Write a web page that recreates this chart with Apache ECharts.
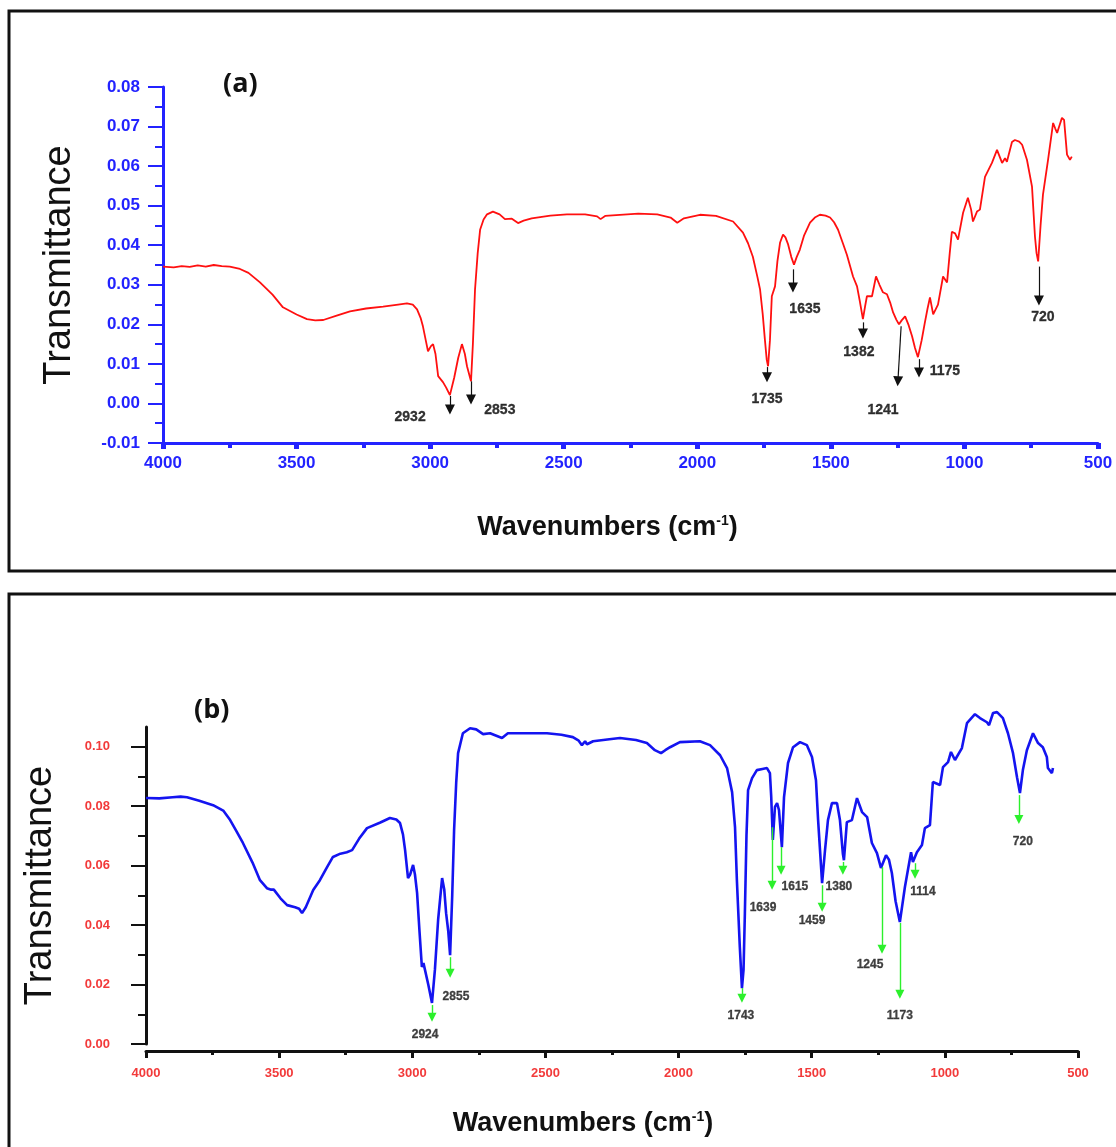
<!DOCTYPE html>
<html>
<head>
<meta charset="utf-8">
<title>FTIR spectra (a) and (b)</title>
<script src="https://cdn.jsdelivr.net/npm/echarts@6/dist/echarts.min.js"></script>
<style>
    html, body { margin: 0; padding: 0; background: #fff; }
    #chart { width: 1116px; height: 1147px; }
</style>
</head>
<body>
<div id="chart"></div>
<script>
// Spectrum (a) - wavenumber (cm-1) and transmittance
const waveA = [4000, 3960, 3930, 3900, 3870, 3840, 3810, 3780, 3750, 3712, 3680, 3637, 3590, 3551, 3500, 3461, 3430, 3400, 3350, 3300,
    3240, 3176, 3120, 3087, 3065, 3049, 3035, 3027, 3015, 3008, 2997, 2989, 2980, 2970, 2952, 2940, 2926, 2910, 2895, 2881,
    2870, 2862, 2847, 2840, 2832, 2822, 2813, 2800, 2787, 2765, 2740, 2720, 2694, 2671, 2650, 2620, 2550, 2488, 2420, 2375,
    2362, 2345, 2221, 2150, 2100, 2075, 2050, 1990, 1930, 1866, 1829, 1810, 1792, 1775, 1765, 1755, 1747, 1740, 1735, 1728,
    1721, 1709, 1700, 1690, 1679, 1670, 1660, 1648, 1638, 1628, 1616, 1600, 1578, 1560, 1541, 1520, 1503, 1488, 1473, 1455,
    1440, 1417, 1402, 1392, 1380, 1372, 1365, 1346, 1331, 1318, 1305, 1290, 1278, 1267, 1255, 1245, 1235, 1222, 1210, 1196,
    1185, 1174, 1160, 1148, 1138, 1129, 1117, 1099, 1080, 1065, 1055, 1047, 1035, 1024, 1005, 987, 975, 968, 953, 942,
    923, 897, 878, 859, 848, 841, 822, 811, 795, 784, 766, 747, 736, 730, 724, 715, 706, 687, 668, 660,
    653, 646, 635, 627, 616, 605, 598];
const transA = [0.0346, 0.0344, 0.0347, 0.0345, 0.0349, 0.0346, 0.0350, 0.0347, 0.0346, 0.0340, 0.0330, 0.0306, 0.0275, 0.0243, 0.0225, 0.0213, 0.0210, 0.0211, 0.0222, 0.0233,
    0.0240, 0.0245, 0.0250, 0.0253, 0.0250, 0.0238, 0.0215, 0.0195, 0.0155, 0.0132, 0.0145, 0.0150, 0.0125, 0.0069, 0.0054, 0.0040, 0.0021, 0.0065, 0.0115, 0.0150,
    0.0125, 0.0094, 0.0056, 0.0150, 0.0288, 0.0380, 0.0439, 0.0465, 0.0478, 0.0485, 0.0478, 0.0466, 0.0467, 0.0456, 0.0462, 0.0468, 0.0475, 0.0478, 0.0478, 0.0473,
    0.0466, 0.0474, 0.0480, 0.0478, 0.0470, 0.0457, 0.0468, 0.0477, 0.0474, 0.0460, 0.0432, 0.0405, 0.0371, 0.0320, 0.0288, 0.0225, 0.0162, 0.0110, 0.0094, 0.0160,
    0.0271, 0.0296, 0.0360, 0.0407, 0.0427, 0.0420, 0.0402, 0.0370, 0.0351, 0.0370, 0.0389, 0.0425, 0.0457, 0.0470, 0.0477, 0.0475, 0.0470, 0.0458, 0.0439, 0.0405,
    0.0376, 0.0321, 0.0296, 0.0260, 0.0213, 0.0245, 0.0271, 0.0271, 0.0321, 0.0300, 0.0281, 0.0276, 0.0255, 0.0230, 0.0212, 0.0200, 0.0210, 0.0220, 0.0200, 0.0170,
    0.0140, 0.0117, 0.0160, 0.0205, 0.0240, 0.0268, 0.0225, 0.0250, 0.0321, 0.0306, 0.0380, 0.0434, 0.0430, 0.0414, 0.0482, 0.0520, 0.0490, 0.0460, 0.0485, 0.0490,
    0.0573, 0.0608, 0.0641, 0.0608, 0.0620, 0.0611, 0.0661, 0.0666, 0.0662, 0.0654, 0.0616, 0.0548, 0.0422, 0.0380, 0.0359, 0.0450, 0.0528, 0.0616, 0.0709, 0.0695,
    0.0684, 0.0699, 0.0722, 0.0717, 0.0629, 0.0616, 0.0624];

// Spectrum (b)
const waveB = [4000, 3950, 3900, 3870, 3846, 3800, 3748, 3710, 3684, 3660, 3636, 3600, 3572, 3546, 3530, 3520, 3495, 3470, 3440, 3425,
    3414, 3400, 3372, 3347, 3320, 3298, 3270, 3246, 3226, 3200, 3170, 3120, 3084, 3060, 3046, 3035, 3027, 3016, 3008, 2997,
    2990, 2982, 2973, 2964, 2958, 2952, 2940, 2926, 2915, 2903, 2888, 2880, 2873, 2865, 2858, 2850, 2843, 2835, 2828, 2810,
    2783, 2760, 2734, 2708, 2663, 2641, 2560, 2494, 2440, 2397, 2375, 2363, 2351, 2344, 2321, 2260, 2220, 2160, 2119, 2089,
    2066, 2050, 2032, 1995, 1920, 1882, 1844, 1818, 1799, 1788, 1781, 1770, 1762, 1756, 1751, 1745, 1739, 1724, 1706, 1685,
    1668, 1657, 1652, 1646, 1638, 1630, 1623, 1612, 1604, 1589, 1570, 1544, 1518, 1499, 1484, 1476, 1468, 1461, 1450, 1439,
    1424, 1405, 1394, 1383, 1379, 1368, 1349, 1330, 1311, 1292, 1274, 1255, 1240, 1221, 1210, 1199, 1185, 1169, 1150, 1127,
    1120, 1105, 1086, 1075, 1056, 1045, 1018, 1007, 988, 977, 962, 936, 917, 887, 868, 842, 834, 819, 804, 782,
    763, 744, 729, 718, 707, 692, 669, 662, 650, 632, 617, 613, 598, 594];
const transB = [0.0827, 0.0826, 0.0830, 0.0832, 0.0830, 0.0818, 0.0803, 0.0785, 0.0753, 0.0715, 0.0676, 0.0610, 0.0551, 0.0524, 0.0519, 0.0519, 0.0490, 0.0467, 0.0460, 0.0455,
    0.0440, 0.0460, 0.0518, 0.0551, 0.0595, 0.0629, 0.0640, 0.0645, 0.0652, 0.0690, 0.0726, 0.0745, 0.0760, 0.0755, 0.0743, 0.0705, 0.0652, 0.0558, 0.0570, 0.0602,
    0.0570, 0.0508, 0.0380, 0.0259, 0.0272, 0.0272, 0.0200, 0.0138, 0.0250, 0.0417, 0.0558, 0.0520, 0.0440, 0.0380, 0.0299, 0.0500, 0.0719, 0.0880, 0.0978, 0.1045,
    0.1062, 0.1058, 0.1042, 0.1045, 0.1029, 0.1045, 0.1045, 0.1045, 0.1040, 0.1032, 0.1020, 0.1005, 0.1018, 0.1008, 0.1018, 0.1025, 0.1029, 0.1022, 0.1012, 0.0988,
    0.0978, 0.0988, 0.0998, 0.1015, 0.1018, 0.1005, 0.0971, 0.0928, 0.0847, 0.0729, 0.0551, 0.0326, 0.0188, 0.0250, 0.0440, 0.0700, 0.0854, 0.0894, 0.0921, 0.0925,
    0.0928, 0.0911, 0.0830, 0.0686, 0.0797, 0.0810, 0.0787, 0.0662, 0.0830, 0.0945, 0.0998, 0.1015, 0.1005, 0.0965, 0.0887, 0.0753, 0.0640, 0.0541, 0.0652, 0.0753,
    0.0810, 0.0810, 0.0753, 0.0640, 0.0618, 0.0746, 0.0753, 0.0827, 0.0780, 0.0763, 0.0676, 0.0642, 0.0592, 0.0635, 0.0620, 0.0575, 0.0480, 0.0410, 0.0528, 0.0645,
    0.0612, 0.0645, 0.0669, 0.0726, 0.0736, 0.0881, 0.0871, 0.0931, 0.0948, 0.0982, 0.0955, 0.0995, 0.1079, 0.1109, 0.1096, 0.1082, 0.1072, 0.1113, 0.1116, 0.1096,
    0.1045, 0.0978, 0.0897, 0.0844, 0.0921, 0.0988, 0.1045, 0.1049, 0.1012, 0.0998, 0.0965, 0.0928, 0.0911, 0.0928];

// axis ticks
const yMajorB = [0, 0.02, 0.04, 0.06, 0.08, 0.10];
const yMinorB = [0.01, 0.03, 0.05, 0.07, 0.09];

// peak callouts: label, arrow start [wn, T], arrow end [wn, T], label position [wn, T]
const peakLabelsA = ['2932', '2853', '1735', '1635', '1382', '1241', '1175', '720'];
const arrowFromA = [[2926, 0.0019], [2847, 0.0056], [1739, 0.0092], [1642, 0.0339], [1380, 0.0205], [1237, 0.0195], [1170, 0.0112], [721, 0.0346]];
const arrowToA = [[2926, -0.0015], [2847, 0.0010], [1739, 0.0066], [1642, 0.0293], [1380, 0.0177], [1249, 0.0056], [1170, 0.0078], [721, 0.0260]];
const labelPosA = [[3075, -0.0034], [2739, -0.0017], [1739, 0.0011], [1597, 0.0238], [1395, 0.0129], [1305, -0.0017], [1073, 0.0082], [706, 0.0218]];

const peakLabelsB = ['2924', '2855', '1743', '1639', '1615', '1459', '1380', '1245', '1173', '1114', '720'];
const arrowFromB = [[2926, 0.0131], [2858, 0.0292], [1762, 0.0188], [1649, 0.0729], [1615, 0.0662], [1461, 0.0534], [1383, 0.0612], [1236, 0.0595], [1169, 0.0407], [1112, 0.0608], [722, 0.0837]];
const arrowToB = [[2926, 0.0090], [2858, 0.0238], [1762, 0.0154], [1649, 0.0534], [1615, 0.0584], [1461, 0.0460], [1383, 0.0584], [1236, 0.0319], [1169, 0.0167], [1112, 0.0571], [722, 0.0755]];
const labelPosB = [[2952, 0.0030], [2836, 0.0158], [1766, 0.0094], [1683, 0.0457], [1563, 0.0528], [1499, 0.0413], [1398, 0.0528], [1281, 0.0266], [1169, 0.0094], [1082, 0.0511], [707, 0.0679]];

const BLUE = '#2323ff';
const RED_TXT = '#f23a3a';
const GREEN = '#2cf02c';
const ARIAL = "'Liberation Sans', Arial, sans-serif";

function pairs(xs, ys) {
    return xs.map((x, i) => [x, ys[i]]);
}

function arrowLines(from, to) {
    return from.map((p, i) => [{ coord: p }, { coord: to[i] }]);
}

function labelPoints(pos, labels) {
    return pos.map((p, i) => [p[0], p[1], labels[i]]);
}

const chart = echarts.init(document.getElementById('chart'), null, { renderer: 'canvas' });

const option = {
    animation: false,
    backgroundColor: '#fff',
    title: [
        { text: '(a)', left: 218, top: 66, textStyle: { fontFamily: "'Open Sans', sans-serif", fontWeight: 'bold', fontSize: 27, color: '#111' } },
        { text: '(b)', left: 189, top: 692, textStyle: { fontFamily: "'Open Sans', sans-serif", fontWeight: 'bold', fontSize: 27, color: '#111' } }
    ],
    graphic: [
        { type: 'rect', shape: { x: 9, y: 11, width: 1125, height: 560 }, style: { fill: 'none', stroke: '#111', lineWidth: 3 }, silent: true },
        { type: 'rect', shape: { x: 9, y: 594, width: 1125, height: 580 }, style: { fill: 'none', stroke: '#111', lineWidth: 3 }, silent: true }
    ],
    grid: [
        { left: 163, top: 87, width: 935, height: 356 },
        { left: 146, top: 727, width: 932, height: 317 }
    ],
    xAxis: [
        {
            gridIndex: 0, type: 'value', min: 500, max: 4000, interval: 500, inverse: true,
            name: 'Wavenumbers (cm{sup|-1})', nameLocation: 'middle', nameGap: 71,
            nameTextStyle: {
                fontFamily: ARIAL, fontWeight: 'bold', fontSize: 27, color: '#111', padding: [0, 46, 0, 0],
                rich: { sup: { fontFamily: ARIAL, fontWeight: 'bold', fontSize: 14, verticalAlign: 'top', color: '#111' } }
            },
            axisLine: { onZero: false, lineStyle: { color: BLUE, width: 3 } },
            axisTick: { length: 6, lineStyle: { color: BLUE, width: 5 } },
            minorTick: { show: true, splitNumber: 2, length: 5, lineStyle: { color: BLUE, width: 4 } },
            axisLabel: { margin: 12, fontFamily: ARIAL, fontWeight: 'bold', fontSize: 17, color: BLUE, formatter: v => String(v) },
            splitLine: { show: false }
        },
        {
            gridIndex: 1, type: 'value', min: 500, max: 4000, interval: 500, inverse: true, offset: 7,
            name: 'Wavenumbers (cm{sup|-1})', nameLocation: 'middle', nameGap: 59,
            nameTextStyle: {
                fontFamily: ARIAL, fontWeight: 'bold', fontSize: 27, color: '#111', padding: [0, 58, 0, 0],
                rich: { sup: { fontFamily: ARIAL, fontWeight: 'bold', fontSize: 14, verticalAlign: 'top', color: '#111' } }
            },
            axisLine: { onZero: false, lineStyle: { color: '#111', width: 3 } },
            axisTick: { length: 7, lineStyle: { color: '#111', width: 3 } },
            minorTick: { show: true, splitNumber: 2, length: 4, lineStyle: { color: '#111', width: 3 } },
            axisLabel: { margin: 16, fontFamily: ARIAL, fontWeight: 'bold', fontSize: 13, color: RED_TXT, formatter: v => String(v) },
            splitLine: { show: false }
        }
    ],
    yAxis: [
        {
            gridIndex: 0, type: 'value', min: -0.01, max: 0.08, interval: 0.01,
            name: 'Transmittance', nameLocation: 'middle', nameGap: 84,
            nameTextStyle: { fontFamily: ARIAL, fontSize: 38, color: '#111' },
            axisLine: { onZero: false, lineStyle: { color: BLUE, width: 3 } },
            axisTick: { length: 15, lineStyle: { color: BLUE, width: 2 } },
            minorTick: { show: true, splitNumber: 2, length: 8, lineStyle: { color: BLUE, width: 2 } },
            axisLabel: { margin: 23, fontFamily: ARIAL, fontWeight: 'bold', fontSize: 17, color: BLUE, formatter: v => v.toFixed(2) },
            splitLine: { show: false }
        },
        {
            gridIndex: 1, type: 'value', min: 0, max: 0.1066, position: 'left',
            name: 'Transmittance', nameLocation: 'middle', nameGap: 86,
            nameTextStyle: { fontFamily: ARIAL, fontSize: 38, color: '#111' },
            axisLine: { onZero: false, lineStyle: { color: '#111', width: 3 } },
            axisTick: { length: 15, customValues: yMajorB, lineStyle: { color: '#111', width: 2 } },
            axisLabel: { margin: 36, customValues: yMajorB, fontFamily: ARIAL, fontWeight: 'bold', fontSize: 13, color: RED_TXT, formatter: v => v.toFixed(2) },
            splitLine: { show: false }
        },
        {
            gridIndex: 1, type: 'value', min: 0, max: 0.1066, position: 'left', offset: 0,
            axisLine: { show: false, onZero: false },
            axisTick: { length: 8, customValues: yMinorB, lineStyle: { color: '#111', width: 2 } },
            axisLabel: { show: false },
            splitLine: { show: false }
        }
    ],
    series: [
        {
            name: 'a', type: 'line', xAxisIndex: 0, yAxisIndex: 0,
            data: pairs(waveA, transA), showSymbol: false, symbol: 'none', clip: false,
            lineStyle: { color: '#ff1010', width: 1.8 },
            markLine: {
                silent: true, symbol: ['none', 'triangle'], symbolSize: 10,
                label: { show: false },
                lineStyle: { color: '#111', width: 1.2, type: 'solid' },
                data: arrowLines(arrowFromA, arrowToA)
            }
        },
        {
            name: 'a labels', type: 'scatter', xAxisIndex: 0, yAxisIndex: 0, symbolSize: 0, silent: true,
            data: labelPoints(labelPosA, peakLabelsA),
            label: { show: true, position: 'inside', formatter: p => p.value[2], fontFamily: ARIAL, fontWeight: 'bold', fontSize: 14, color: '#000', textBorderColor: '#000', textBorderWidth: 0.3 }
        },
        {
            name: 'b', type: 'line', xAxisIndex: 1, yAxisIndex: 1,
            data: pairs(waveB, transB), showSymbol: false, symbol: 'none', clip: false,
            lineStyle: { color: '#1414f0', width: 2.6 },
            markLine: {
                silent: true, symbol: ['none', 'triangle'], symbolSize: 9,
                label: { show: false },
                lineStyle: { color: GREEN, width: 1.4, type: 'solid' },
                data: arrowLines(arrowFromB, arrowToB)
            }
        },
        {
            name: 'b labels', type: 'scatter', xAxisIndex: 1, yAxisIndex: 1, symbolSize: 0, silent: true,
            data: labelPoints(labelPosB, peakLabelsB),
            label: { show: true, position: 'inside', formatter: p => p.value[2], fontFamily: ARIAL, fontWeight: 'bold', fontSize: 12, color: '#111', textBorderColor: '#111', textBorderWidth: 0.3 }
        }
    ]
};

chart.setOption(option);
</script>
</body>
</html>
